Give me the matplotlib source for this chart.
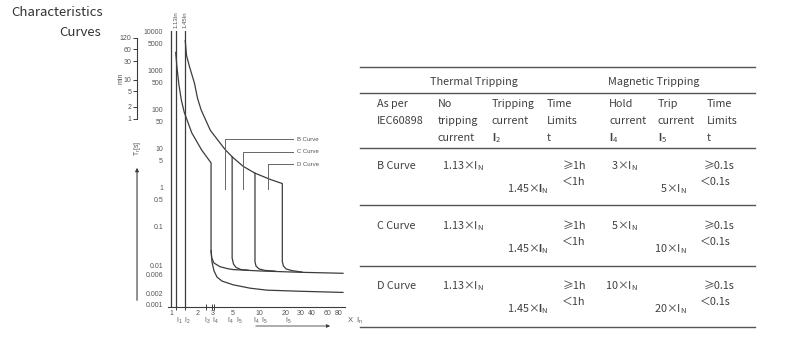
import matplotlib
matplotlib.use("Agg")
import matplotlib.pyplot as plt
import matplotlib.transforms as mtransforms
from matplotlib.lines import Line2D
from matplotlib.ticker import NullLocator, NullFormatter

plt.rcParams.update({
    "font.family": ["Liberation Sans", "DejaVu Sans"],
    "mathtext.fontset": "custom",
    "mathtext.rm": "Noto Sans CJK SC",
    "mathtext.bf": "Liberation Sans:bold",
})
CJK = ["Noto Sans CJK SC", "DejaVu Sans"]
INK = "#3c3c3c"
GREY = "#555555"

# ---------------- chart data (x = multiple of In, y = tripping time in s) ----------------
y_ticks = [10000, 5000, 1000, 500, 100, 50, 10, 5, 1, 0.5, 0.1, 0.01, 0.006, 0.002, 0.001]
y_labels = ["10000", "5000", "1000", "500", "100", "50", "10", "5", "1", "0.5", "0.1",
            "0.01", "0.006", "0.002", "0.001"]
min_ticks = [1, 2, 5, 10, 30, 60, 120]
x_ticks = [1, 2, 3, 5, 10, 20, 30, 40, 60, 80]
x_marks = [1, 1.13, 1.45, 2.5, 2.95, 3.1, 5, 10, 20]
bound_x = [1, 1.13, 1.45]
bound_names = ["1.13In", "1.45In"]
sub_x = [1.23, 1.52, 2.61, 3.16, 4.76, 5.93, 9.4, 11.4, 21.6]
sub_lab = ["1", "2", "3", "4", "4", "5", "4", "5", "5"]

# lower band: thermal from 1.13 In, release at 3 In, lower magnetic tail
low_x = [1.13, 1.17, 1.23, 1.31, 1.41, 1.72, 2.23, 2.85, 2.85, 2.92, 3.08, 3.33, 3.8,
         5.06, 7.9, 12.3, 29.2, 90]
low_t = [3000, 1200, 440, 180, 89, 26, 9.4, 4.4, 0.0257, 0.0127, 0.0075, 0.0052, 0.0041,
         0.0033, 0.0027, 0.0024, 0.00225, 0.0021]
# upper band: thermal from 1.45 In down to 20 In release
up_x = [1.45, 1.5, 1.62, 1.85, 2.0, 2.2, 2.8, 4.1, 4.95, 6.6, 9.0, 13.5, 18.4, 18.4,
        18.95, 20.3, 23.7, 30.8]
up_t = [6000, 2500, 1300, 480, 200, 100, 30, 9.8, 6.3, 3.6, 2.4, 1.65, 1.3, 0.0129,
        0.0100, 0.0084, 0.0076, 0.0070]
# upper magnetic tail and the 5 / 10 In releases
tail_x = [2.85, 2.9, 3.08, 3.6, 4.33, 5.06, 10.3, 29.2, 90]
tail_t = [0.025, 0.016, 0.0119, 0.0096, 0.0086, 0.0081, 0.00745, 0.0069, 0.0065]
c_x = [4.95, 4.95, 5.13, 5.47, 6.24, 7.5]
c_t = [6.3, 0.016, 0.0112, 0.0092, 0.0081, 0.0078]
d_x = [9.0, 9.0, 9.24, 10.0, 11.7, 15.2]
d_t = [2.4, 0.0129, 0.0100, 0.0084, 0.0077, 0.0074]

lead_names = ["B Curve", "C Curve", "D Curve"]
lead_x = [4.11, 6.58, 12.6]
lead_t = [18.0, 8.4, 4.12]
lead_bottom = 0.94
lead_end = 24.4
lead_text_x = 27.0

# ---------------- table data ----------------
groups = ["Thermal Tripping", "Magnetic Tripping"]
head = [["As per", "IEC60898"], ["No", "tripping", "current"],
        ["Tripping", "current", r"$\mathbf{I}_\mathregular{2}$"], ["Time", "Limits", "t"],
        ["Hold", "current", r"$\mathbf{I}_\mathregular{4}$"],
        ["Trip", "current", r"$\mathbf{I}_\mathregular{5}$"], ["Time", "Limits", "t"]]
curves = ["B Curve", "C Curve", "D Curve"]
no_trip = "1.13"
trip = "1.45"
hold_mult = ["3", "5", "10"]
trip_mult = ["5", "10", "20"]
thermal_lim = ["≥1h", "＜1h"]
magnetic_lim = ["≥0.1s", "＜0.1s"]

W, H = 800, 339
fig = plt.figure(figsize=(W / 100, H / 100), dpi=100)
fx = lambda px: px / W
fy = lambda py: 1 - py / H

# ---------------- chart ----------------
ax = fig.add_axes([fx(168), fy(306.7), 177 / W, 275.7 / H])
ax.set_xscale("log"); ax.set_yscale("log")
ax.set_xlim(0.924, 94.9); ax.set_ylim(0.000904, 10600)
for s in ["top", "right", "left"]:
    ax.spines[s].set_visible(False)
ax.spines["bottom"].set_color(INK); ax.spines["bottom"].set_linewidth(0.8)

ax.set_yticks(y_ticks, y_labels)
ax.yaxis.set_minor_locator(NullLocator())
ax.tick_params(axis="y", length=0, pad=3.6, labelsize=5, labelcolor=GREY)
ax.set_xticks(x_ticks, [str(v) for v in x_ticks])
ax.set_xticks(x_marks, minor=True)
ax.xaxis.set_minor_formatter(NullFormatter())
ax.tick_params(axis="x", which="major", length=0, pad=2.2, labelsize=5, labelcolor=GREY)
ax.tick_params(axis="x", which="minor", length=4, width=0.7, direction="inout", color=INK)

for v in bound_x:
    ax.axvline(v, color=INK, lw=0.9)
kw = dict(color=INK, lw=0.9, solid_joinstyle="round")
ax.plot(low_x, low_t, **kw)
ax.plot(up_x, up_t, **kw)
ax.plot(tail_x, tail_t, **kw)
ax.plot(c_x, c_t, **kw)
ax.plot(d_x, d_t, **kw)

for name, lx, lt in zip(lead_names, lead_x, lead_t):
    ax.plot([lx, lx, lead_end], [lead_bottom, lt, lt], color="#666666", lw=0.7)
    ax.text(lead_text_x, lt, name, fontsize=4.3, color=GREY, va="center", ha="left")

bt = mtransforms.blended_transform_factory(ax.transData, ax.transAxes)
for v, name in zip(bound_x[1:], bound_names):
    ax.text(v, 1.01, name, rotation=90, fontsize=4.3, color=GREY, ha="center",
            va="bottom", transform=bt)
for v, s in zip(sub_x, sub_lab):
    ax.text(v, -0.053, r"$\mathregular{I_%s}$" % s, fontsize=5, color=GREY,
            ha="center", va="center", transform=bt)
ax.annotate("", xy=(69.1, -0.07), xytext=(8.55, -0.07), xycoords=bt, textcoords=bt,
            arrowprops=dict(arrowstyle="-|>", color=INK, lw=0.6, mutation_scale=5),
            annotation_clip=False)
ax.text(1.01, -0.052, r"X  $\mathregular{I_n}$", fontsize=5.5, color=GREY,
        ha="left", va="center", transform=ax.transAxes)

# minutes scale on the left
sec = ax.secondary_yaxis(-0.175, functions=(lambda s: s / 60, lambda m: m * 60))
sec.set_yticks(min_ticks, [str(m) for m in min_ticks])
sec.yaxis.set_minor_locator(NullLocator())
sec.spines["left"].set_bounds(1, 120)
sec.spines["left"].set_color(INK); sec.spines["left"].set_linewidth(0.8)
sec.tick_params(axis="y", length=3, width=0.7, pad=1.2, labelsize=5, labelcolor=GREY, color=INK)
ax.text(-0.266, 0.83, "min", rotation=90, fontsize=5, color=GREY, ha="center",
        va="center", transform=ax.transAxes)
ax.text(-0.175, 0.575, r"T$\mathregular{_r}$[s]", rotation=90, fontsize=5, color=GREY,
        ha="center", va="center", transform=ax.transAxes)
ax.annotate("", xy=(-0.175, 0.514), xytext=(-0.175, 0.013), xycoords="axes fraction",
            arrowprops=dict(arrowstyle="-|>", color=INK, lw=0.8, mutation_scale=5),
            annotation_clip=False)

# ---------------- title ----------------
fig.text(fx(11), fy(12.5), "Characteristics", family=CJK, fontsize=9.5, color="#333333",
         ha="left", va="center")
fig.text(fx(101.5), fy(32.5), "Curves", family=CJK, fontsize=9.5, color="#333333",
         ha="right", va="center")

# ---------------- table ----------------
def hline(py):
    fig.add_artist(Line2D([fx(360), fx(755)], [fy(py), fy(py)], color="#555555", lw=1.0))

def put(px, py, s, ha="left"):
    fig.text(fx(px), fy(py + 4), s, family=CJK, fontsize=7.8, color="#404040",
             ha=ha, va="baseline")

for py in [67.3, 93.3, 148.3, 205, 265.7, 326.7]:
    hline(py)
for gx, g in zip([474, 654], groups):
    put(gx, 81, g, ha="center")
col_x = [377, 437.7, 491.7, 547, 609, 658, 707]
for cx, lines in zip(col_x, head):
    for py, s in zip([103.3, 120, 137], lines):
        put(cx, py, s)

IN = r"$\mathregular{I_N}$"
INB = r"$\mathbf{I}_\mathregular{N}$"
for i, name in enumerate(curves):
    y0 = 165 + 60 * i
    put(376.7, y0, name)
    put(441.7, y0, no_trip + "×" + IN)
    put(506.7, y0 + 23.3, trip + "×" + INB)
    put(562.3, y0, thermal_lim[0])
    put(562.3, y0 + 16, thermal_lim[1])
    put(638, y0, hold_mult[i] + "×" + IN, ha="right")
    put(687, y0 + 23.3, trip_mult[i] + "×" + IN, ha="right")
    put(703.3, y0, magnetic_lim[0])
    put(700, y0 + 16, magnetic_lim[1])

fig.savefig("out.png", dpi=100)
